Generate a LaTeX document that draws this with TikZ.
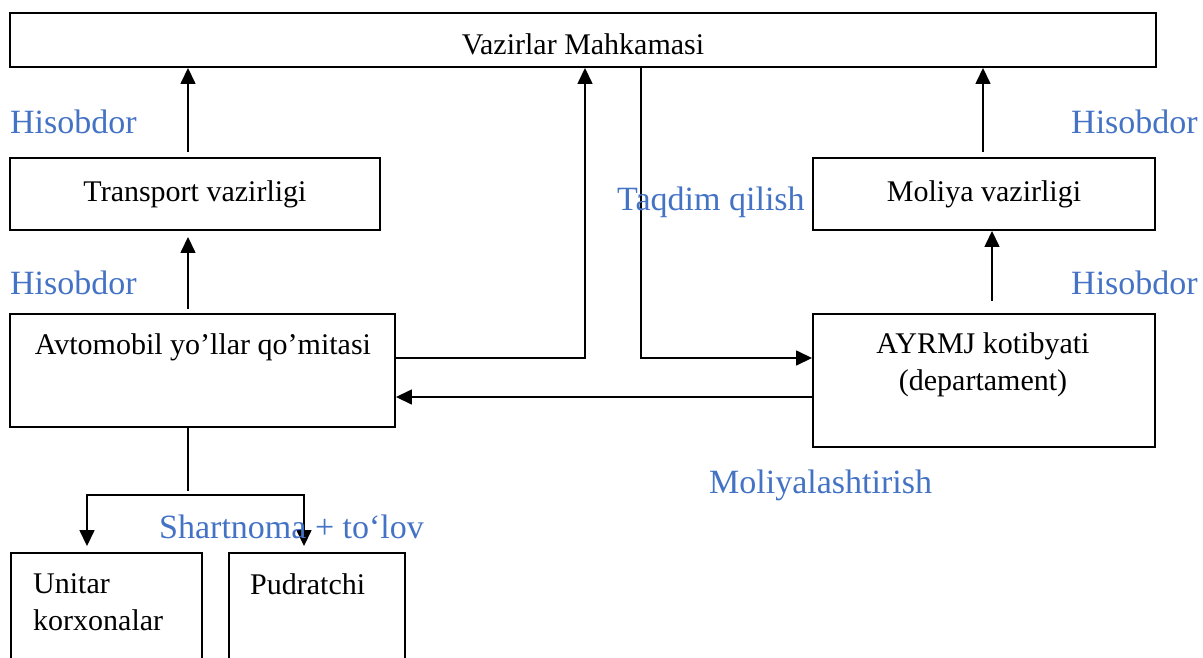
\documentclass[tikz,border=0pt]{standalone}
\usepackage{fontspec}
\setmainfont{Liberation Serif}
\usetikzlibrary{calc,arrows.meta}
\definecolor{ink}{HTML}{000000}
\definecolor{note}{HTML}{4472C4}
\tikzset{
  box/.style={draw=ink, line width=1.9pt, inner sep=0pt, font=\fontsize{30}{37}\selectfont},
  link/.style={draw=ink, line width=1.5pt},
  arr/.style={link, -{Triangle[length=16pt,width=15pt]}},
  txt/.style={text=ink, inner sep=0pt, font=\fontsize{30}{37}\selectfont},
  lbl/.style={text=note, inner sep=0pt, anchor=west, font=\fontsize{34}{40}\selectfont},
}

\begin{document}
\begin{tikzpicture}[x=1pt,y=-1pt]
  \useasboundingbox (0,0) rectangle (1203,657);
  % boxes
  \node[box, minimum width=1146pt, minimum height=54pt, text height=28.5pt] (vm) at (583,40) {Vazirlar Mahkamasi};
  \node[box, minimum width=370pt, minimum height=72pt] (transport) at (195,194) {Transport vazirligi};
  \node[box, minimum width=342pt, minimum height=72pt] (moliya) at (984,194) {Moliya vazirligi};
  \node[box, minimum width=385pt, minimum height=113pt] (avto) at (202.5,370.5) {};
  \node[box, minimum width=342pt, minimum height=133pt] (ayrmj) at (984,380.5) {};
  \node[box, minimum width=191pt, minimum height=127pt] (unitar) at (106.5,616.5) {};
  \node[box, minimum width=176pt, minimum height=127pt] (pudratchi) at (317,616.5) {};
  \node[txt] (avtoT) at (203,347) {Avtomobil yo’llar qo’mitasi};
  \node[txt, align=center] (ayrmjT) at (983,364.5) {AYRMJ kotibyati\\(departament)};
  \node[txt, align=left, anchor=west] (unitarT) at (33,602) {Unitar\\korxonalar};
  \node[txt, anchor=west] (pudratchiT) at (250,584) {Pudratchi};

  % connectors
  \draw[arr] ([xshift=-7pt,yshift=5pt]transport.north) -- ([xshift=-7pt]transport.north |- vm.south);
  \draw[arr] ([xshift=-14.5pt,yshift=4pt]avto.north) -- ([xshift=-14.5pt,yshift=-6pt]avto.north |- transport.south);
  \draw[arr] ([yshift=12.5pt]avto.east) -| ([xshift=2pt]vm.south);
  \draw[arr] ([xshift=58pt]vm.south) |- ([yshift=22.5pt]ayrmj.west);
  \draw[arr] ([yshift=-16.5pt]ayrmj.west) -- ([yshift=-16.5pt]ayrmj.west -| avto.east);
  \draw[arr] ([xshift=8pt,yshift=12pt]ayrmj.north) -- ([xshift=8pt]moliya.south);
  \draw[arr] ([xshift=-1pt,yshift=5pt]moliya.north) -- ([xshift=-1pt]moliya.north |- vm.south);
  \coordinate (fork) at (188,495);
  \draw[link] ([xshift=-14.5pt]avto.south) -- ([yshift=4pt]fork);
  \draw[arr] (fork) -| ([xshift=-19.5pt,yshift=6pt]unitar.north);
  \draw[arr] (fork) -| ([xshift=-13pt,yshift=6pt]pudratchi.north);

  % labels
  \node[lbl] (hisob1) at (10,122) {Hisobdor};
  \node[lbl] (hisob2) at (10,283) {Hisobdor};
  \node[lbl] (hisob3) at (1071,122) {Hisobdor};
  \node[lbl] (hisob4) at (1071,283) {Hisobdor};
  \node[lbl] (taqdim) at (617,202) {Taqdim qilish};
  \node[lbl] (moliyal) at (709,485) {Moliyalashtirish};
  \node[lbl] (shart) at (159,527) {Shartnoma + to‘lov};
\end{tikzpicture}
\end{document}
